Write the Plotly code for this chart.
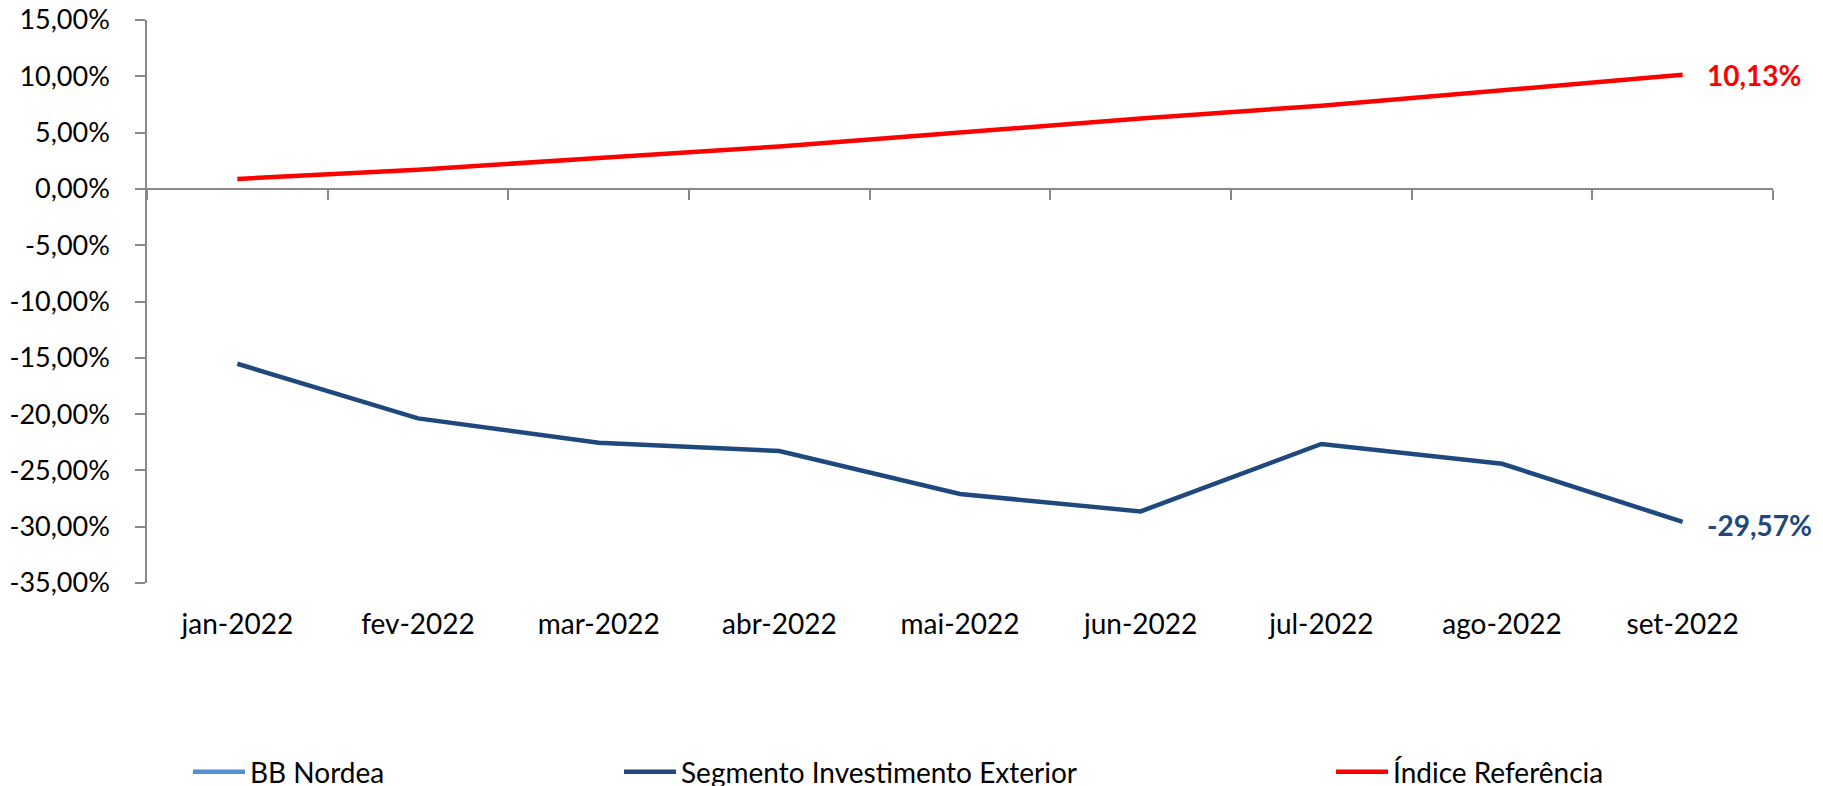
import plotly.graph_objects as go

months = ["jan-2022", "fev-2022", "mar-2022", "abr-2022", "mai-2022",
          "jun-2022", "jul-2022", "ago-2022", "set-2022"]
bb_nordea = [None] * 9
segmento = [-15.53, -20.38, -22.55, -23.28, -27.10, -28.64, -22.65, -24.41, -29.57]
indice = [0.89, 1.71, 2.74, 3.77, 5.00, 6.25, 7.39, 8.80, 10.13]
y_ticks = [15, 10, 5, 0, -5, -10, -15, -20, -25, -30, -35]
y_tick_labels = ["15,00%", "10,00%", "5,00%", "0,00%", "-5,00%", "-10,00%",
                 "-15,00%", "-20,00%", "-25,00%", "-30,00%", "-35,00%"]

# page has an 8px body margin; size the figure so it fits the 1823x786 window
OFF = 8
W, H = 1823 - OFF, 786 - OFF
L, T = 147 - OFF, 20 - OFF
R = W - (1773 - OFF)
B = H - (583 - OFF)
FONT = "Lato, 'Open Sans', sans-serif"
AX = "#898989"
C_BB, C_SEG, C_IDX = "#558ED5", "#1F497D", "#FF0000"

def fmt(v):
    return f"{v:.2f}".replace(".", ",") + "%"

fig = go.Figure()
fig.add_trace(go.Scatter(x=months, y=bb_nordea, mode="lines", name="BB Nordea",
                         line=dict(color=C_BB, width=4.5), legend="legend"))
fig.add_trace(go.Scatter(x=months, y=segmento, mode="lines", name="Segmento Investimento Exterior",
                         line=dict(color=C_SEG, width=4.5), legend="legend2"))
fig.add_trace(go.Scatter(x=months, y=indice, mode="lines", name="Índice Referência",
                         line=dict(color=C_IDX, width=4.5), legend="legend3"))
# helper trace for the zero-line axis
fig.add_trace(go.Scatter(x=months, y=[None] * 9, xaxis="x2", showlegend=False, hoverinfo="skip"))

fig.add_annotation(x=months[-1], y=indice[-1], text=fmt(indice[-1]), showarrow=False,
                   xanchor="left", yanchor="middle", xshift=22,
                   font=dict(family=FONT, size=28, color=C_IDX, weight="bold"))
fig.add_annotation(x=months[-1], y=segmento[-1], text=fmt(segmento[-1]), showarrow=False,
                   xanchor="left", yanchor="middle", xshift=22, yshift=-3,
                   font=dict(family=FONT, size=28, color=C_SEG, weight="bold"))

pw = W - L - R
ph = H - T - B
def px_x(p):  # page pixel -> plot fraction
    return (p - OFF - L) / pw
def px_y(p):
    return (H - B - (p - OFF)) / ph

legend_common = dict(orientation="h", yanchor="middle", xanchor="left",
                     font=dict(family=FONT, size=28, color="#000000"),
                     bgcolor="rgba(0,0,0,0)", itemwidth=52)

fig.update_layout(
    width=W, height=H,
    margin=dict(l=L, r=R, t=T, b=B, autoexpand=False),
    paper_bgcolor="white", plot_bgcolor="white",
    font=dict(family=FONT, size=28, color="#000000"),
    legend=dict(x=px_x(188), y=px_y(772), **legend_common),
    legend2=dict(x=px_x(619), y=px_y(772), **legend_common),
    legend3=dict(x=px_x(1331), y=px_y(772), **legend_common),
    xaxis=dict(type="category", categoryorder="array", categoryarray=months,
               range=[-0.5, 8.5], showline=False, ticks="", showgrid=False,
               zeroline=False, tickfont=dict(family=FONT, size=28, color="#000000"),
               ticklabelstandoff=22, automargin=False),
    xaxis2=dict(type="category", categoryorder="array", categoryarray=months,
                range=[-0.5, 8.5], overlaying="x", anchor="free", position=35 / 50,
                side="bottom", showline=True, linecolor=AX, linewidth=1.5,
                ticks="outside", tickson="boundaries", ticklen=10, tickcolor=AX,
                tickwidth=1.5, showticklabels=False, showgrid=False, zeroline=False,
                automargin=False),
    yaxis=dict(range=[-35, 15], tickvals=y_ticks, ticktext=y_tick_labels,
               showline=True, linecolor=AX, linewidth=1.5, ticks="outside",
               ticklen=10, tickcolor=AX, tickwidth=1.5, showgrid=False,
               zeroline=False, ticklabelstandoff=20, automargin=False,
               ticklabeloverflow="allow",
               tickfont=dict(family=FONT, size=27, color="#000000")),
    showlegend=True,
)

fig.write_html("out.html")
